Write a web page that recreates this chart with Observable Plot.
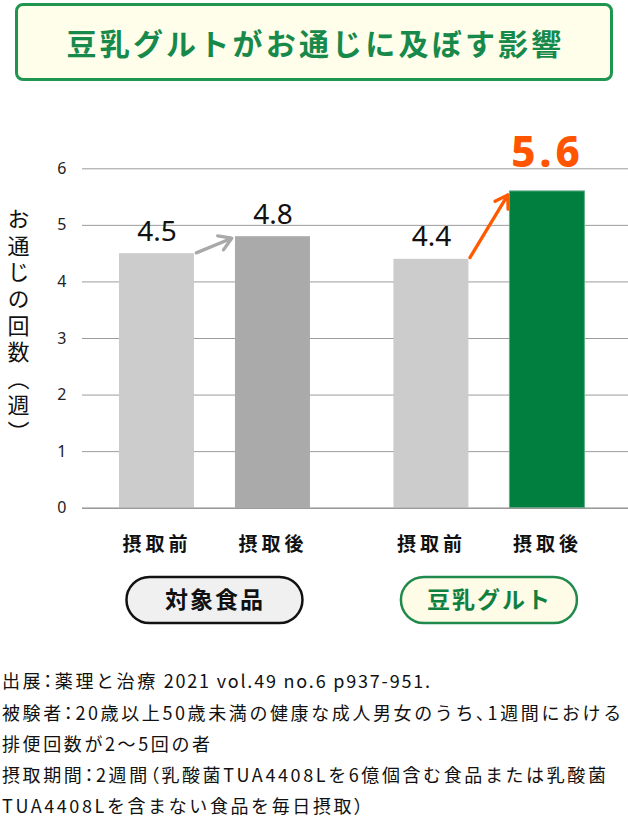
<!DOCTYPE html>
<html><head><meta charset="utf-8">
<script src="https://cdn.jsdelivr.net/npm/d3@7"></script>
<script src="https://cdn.jsdelivr.net/npm/@observablehq/plot@0.6"></script>
<style>
html,body{margin:0;padding:0;background:#fff;width:628px;height:819px;overflow:hidden;font-family:"Noto Sans CJK JP",sans-serif;}
#title{position:absolute;left:15px;top:3px;width:598px;height:78px;box-sizing:border-box;border:3px solid #1e9650;border-radius:8px;background:#fefeea;display:flex;align-items:center;justify-content:center;color:#17894a;font-weight:700;font-size:30px;letter-spacing:3.2px;padding-left:3px;}
#chart{position:absolute;left:0;top:90px;}
#caption{position:absolute;left:2px;top:665.4px;font-size:18px;line-height:31.2px;letter-spacing:2.6px;color:#111;white-space:nowrap;}
#caption .p{font-feature-settings:"palt";}
#caption .l{letter-spacing:1.8px;}
g[aria-description="phase-labels"] text{letter-spacing:4px;}
g[aria-description="group-labels"] text{letter-spacing:2px;}
g[aria-description="highlight-label"] text{letter-spacing:4px;}
g[aria-description="y-title"] text{writing-mode:vertical-rl;text-orientation:upright;letter-spacing:4.6px;}
</style>
</head><body>
<div id="title">豆乳グルトがお通じに及ぼす影響</div>
<div id="chart"></div>
<div id="caption">出展<span class="p">：</span>薬理と治療<span class="l"> 2021 vol.49 no.6 p937-951.</span><br>被験者<span class="p">：</span>20歳以上50歳未満の健康な成人男女のうち<span class="p">、</span>1週間における<br>排便回数が2〜5回の者<br>摂取期間<span class="p">：</span>2週間<span class="p">（</span>乳酸菌TUA4408Lを6億個含む食品または乳酸菌<br>TUA4408Lを含まない食品を毎日摂取<span class="p">）</span></div>
<script>
// ---- data ----
const groups = ["対象食品", "豆乳グルト"];
const phases = ["摂取前", "摂取後"];
const barGroup = ["対象食品", "対象食品", "豆乳グルト", "豆乳グルト"];
const barPhase = ["摂取前", "摂取後", "摂取前", "摂取後"];
const barValue = [4.5, 4.8, 4.4, 5.6];
const barLabel = ["4.5", "4.8", "4.4", "5.6"];
const yTicks = [0, 1, 2, 3, 4, 5, 6];
const yTitle = "お通じの回数（週）";
const highlightGroup = "豆乳グルト";

// ---- layout / style ----
const GROUP_GAP = 2.366, BAR_HALF = 0.3233, PILL_HALF = 0.7586;
const pos = (g, p) => groups.indexOf(g) * GROUP_GAP + phases.indexOf(p);
const bars = barValue.map((v, i) => ({
  group: barGroup[i], phase: barPhase[i], value: v, label: barLabel[i],
  x: pos(barGroup[i], barPhase[i])
}));
const isHi = d => d.group === highlightGroup && d.phase === phases[1];
const fillFor = d => isHi(d) ? "#017f3e" : (d.phase === phases[1] ? "#aaaaaa" : "#cccccc");
const arrows = groups.map(g => {
  const a0 = bars.find(d => d.group === g && d.phase === phases[0]);
  const a1 = bars.find(d => d.group === g && d.phase === phases[1]);
  return {group: g, x1: a0.x + BAR_HALF, y1: a0.value, x2: a1.x - BAR_HALF, y2: a1.value};
});
const groupData = groups.map((g, i) => ({group: g, x: i * GROUP_GAP + 0.5}));

const chart = Plot.plot({
  width: 628, height: 550,
  marginLeft: 82, marginRight: 0, marginTop: 78.3, marginBottom: 132.3,
  x: {type: "linear", domain: [-0.642, 4.065], axis: null},
  y: {domain: [0, 6], axis: null},
  style: {fontFamily: "'Noto Sans CJK JP', sans-serif", background: "white", overflow: "visible"},
  marks: [
    Plot.gridY(yTicks, {stroke: "#9c9c9c", strokeOpacity: 1}),
    Plot.axisY(yTicks, {tickSize: 0, tickPadding: 16, fontSize: 16, fill: "#222", fontFamily: "Noto Sans", tickFormat: d => String(d)}),
    Plot.rectY(bars, {x1: d => d.x - BAR_HALF, x2: d => d.x + BAR_HALF, y: "value", fill: fillFor}),
    Plot.rectY(bars.filter(isHi), {x1: d => d.x - BAR_HALF, x2: d => d.x + BAR_HALF, y: "value", fill: "none", stroke: "#5fae86", strokeWidth: 1}),
    Plot.ruleY([0], {stroke: "#8c8c8c"}),
    Plot.arrow(arrows, {x1: "x1", y1: "y1", x2: "x2", y2: "y2",
      stroke: d => d.group === highlightGroup ? "#ff5a00" : "#a9a9a9",
      strokeWidth: 3.3, headLength: 6.5, headAngle: 64, insetStart: 2, insetEnd: 4}),
    Plot.text(bars.filter(d => !isHi(d)), {x: "x", y: "value", text: "label", dy: -13, lineAnchor: "bottom",
      fontSize: 28, fontFamily: "Noto Sans", fill: "#111"}),
    Plot.text(bars.filter(isHi), {x: "x", y: "value", text: "label", dy: -24, lineAnchor: "bottom",
      fontSize: 42, fontWeight: 800, fontFamily: "Noto Sans", fill: "#ff5500", ariaDescription: "highlight-label"}),
    Plot.text(bars, {x: "x", y: 0, text: "phase", dy: 37, lineAnchor: "middle",
      fontSize: 19, fontWeight: 700, fill: "#111", ariaDescription: "phase-labels"}),
    Plot.rect(groupData, {x1: d => d.x - PILL_HALF, x2: d => d.x + PILL_HALF, insetTop: 408.7, insetBottom: -115.3,
      rx: 23, ry: 23,
      fill: d => d.group === highlightGroup ? "#fefbe6" : "#f0f0f0",
      stroke: d => d.group === highlightGroup ? "#1f8a4c" : "#111111", strokeWidth: 2.5}),
    Plot.text(groupData, {x: "x", frameAnchor: "bottom", dy: 92.3, text: "group", lineAnchor: "middle",
      fontSize: 23, fontWeight: 700,
      fill: d => d.group === highlightGroup ? "#0f8040" : "#111111", ariaDescription: "group-labels"}),
    Plot.text([yTitle], {frameAnchor: "left", dx: -64, dy: -18, text: d => d, textAnchor: "middle",
      lineAnchor: "middle", fontSize: 22, fill: "#111", ariaDescription: "y-title"})
  ]
});
document.getElementById("chart").appendChild(chart);
</script>
</body></html>
